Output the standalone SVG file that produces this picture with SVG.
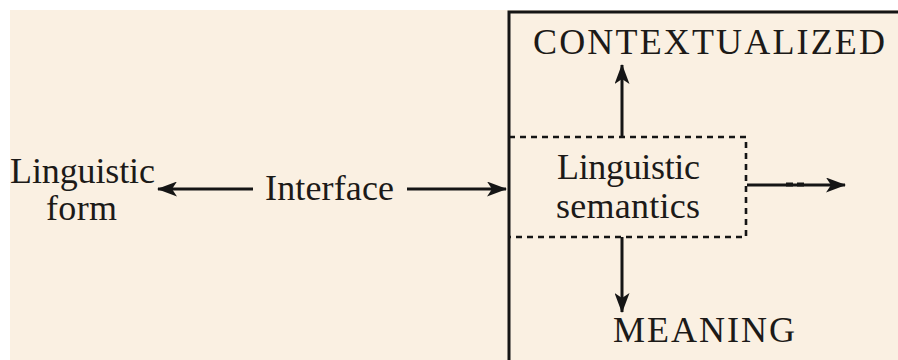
<svg xmlns="http://www.w3.org/2000/svg" width="898" height="360" viewBox="0 0 898 360">
  <style>
    .t { font-family: "Liberation Serif", "Times New Roman", serif; fill: #1c1a18; }
    .lc { font-size: 36px; }
    .uc { font-size: 36px; }
    .ln { stroke: #151515; stroke-width: 3; fill: none; }
    .dash { stroke: #151515; stroke-width: 2.6; fill: none; stroke-dasharray: 6 5; }
  </style>
  <defs>
    <marker id="ah" viewBox="0 0 20 15" refX="19" refY="7.5" markerWidth="20" markerHeight="15" markerUnits="userSpaceOnUse" orient="auto">
      <path d="M0,0 L20,7.5 L0,15 L5,7.5 z" fill="#151515"/>
    </marker>
  </defs>
  <rect width="898" height="360" fill="#ffffff"/>
  <rect x="10" y="10" width="888" height="350" fill="#FAF0E2"/>

  <g id="frame">
    <path class="ln" d="M509,360 L509,12 L898,12"/>
  </g>

  <g id="linguistic-form">
    <text class="t lc" x="10" y="183" textLength="145" lengthAdjust="spacing">Linguistic</text>
    <text class="t lc" x="46" y="220" textLength="71" lengthAdjust="spacing">form</text>
  </g>

  <g id="interface">
    <text class="t lc" x="265" y="200" textLength="129" lengthAdjust="spacing">Interface</text>
  </g>

  <g id="linguistic-semantics">
    <path class="dash" d="M509,137 L746,137 L746,237 L509,237"/>
    <text class="t lc" x="557" y="179" textLength="143" lengthAdjust="spacing">Linguistic</text>
    <text class="t lc" x="556" y="218" textLength="144" lengthAdjust="spacing">semantics</text>
  </g>

  <g id="contextualized">
    <text class="t uc" x="533" y="54" textLength="352" lengthAdjust="spacing">CONTEXTUALIZED</text>
  </g>

  <g id="meaning">
    <text class="t uc" x="613" y="342" textLength="182" lengthAdjust="spacing">MEANING</text>
  </g>

  <g id="connectors">
    <line class="ln" x1="253" y1="189" x2="158" y2="189" marker-end="url(#ah)"/>
    <line class="ln" x1="407" y1="189" x2="506" y2="189" marker-end="url(#ah)"/>
    <line class="ln" x1="622" y1="137" x2="622" y2="65" marker-end="url(#ah)"/>
    <line class="ln" x1="622" y1="237" x2="622" y2="312" marker-end="url(#ah)"/>
    <line class="ln" x1="747" y1="185" x2="845" y2="185" marker-end="url(#ah)"/>
    <line x1="786" y1="184.5" x2="806" y2="184.5" stroke="#151515" stroke-width="4" stroke-dasharray="7 4"/>
  </g>
</svg>
